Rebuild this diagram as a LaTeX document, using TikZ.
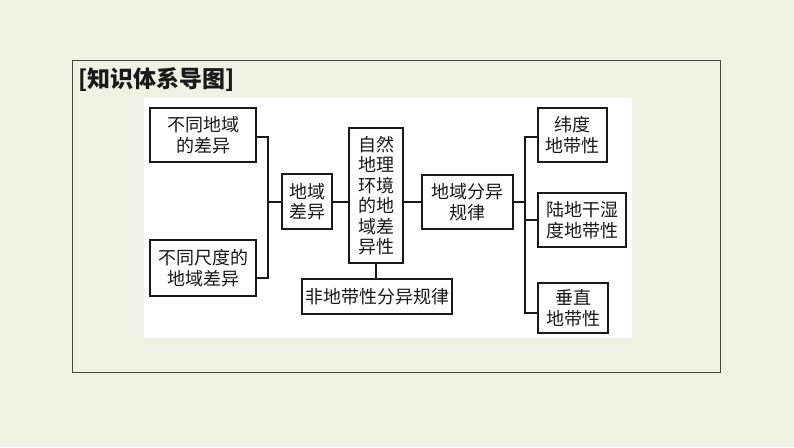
\documentclass[tikz,border=0pt]{standalone}
\usepackage{fontspec}
\setmainfont{Noto Sans CJK SC}
\definecolor{bg}{RGB}{238,242,226}
\definecolor{frame}{RGB}{70,70,70}
\definecolor{ink}{RGB}{25,25,25}
\begin{document}
\begin{tikzpicture}[x=1pt,y=-1pt,
  box/.style={draw=ink,line width=1.3pt,fill=white,inner sep=0pt,align=center,
    font=\fontsize{18}{20.5}\selectfont,text=ink},
  conn/.style={draw=ink,line width=1.3pt}]
\useasboundingbox (0,0) rectangle (794,447);
\fill[bg] (0,0) rectangle (794,447);
\draw[frame,line width=1pt] (72,60) rectangle (720,372);
\fill[white] (144,98) rectangle (632,338);
\node[anchor=west,font=\fontsize{23}{26}\selectfont\bfseries,text=ink] (title) at (75,80) {[知识体系导图]};
% boxes
\node[box,minimum width=106,minimum height=54] (A) at (203,135) {不同地域\\的差异};
\node[box,minimum width=106,minimum height=56] (B) at (203,268) {不同尺度的\\地域差异};
\node[box,minimum width=50,minimum height=55] (C) at (307,201.5) {地域\\差异};
\node[box,minimum width=54,minimum height=135] (D) at (376,195.5) {自然\\地理\\环境\\的地\\域差\\异性};
\node[box,minimum width=150,minimum height=35] (E) at (377,296.5) {非地带性分异规律};
\node[box,minimum width=91,minimum height=54] (F) at (467.5,202) {地域分异\\规律};
\node[box,minimum width=69,minimum height=54] (G) at (572.5,135) {纬度\\地带性};
\node[box,minimum width=88,minimum height=54] (H) at (582,220) {陆地干湿\\度地带性};
\node[box,minimum width=70,minimum height=50] (I) at (573,308) {垂直\\地带性};
% connectors
\coordinate (j1) at (268,202);
\coordinate (j2) at (525,202);
\draw[conn] ([yshift=-2pt]A.east) -| (j1);
\draw[conn] ([yshift=-10pt]B.east) -| (j1);
\draw[conn] (j1) -- (C.west |- j1);
\draw[conn] (C.east |- j1) -- (D.west |- j1);
\draw[conn] (D.south) -- (E.north -| D.south);
\draw[conn] (D.east |- j1) -- (F.west |- j1);
\draw[conn] (F.east |- j2) -- (j2);
\draw[conn] ([yshift=-2pt]G.west) -| (j2);
\draw[conn] ([yshift=-5pt]I.west) -| (j2);
\draw[conn] (H.west) -- (H.west -| j2);
\end{tikzpicture}
\end{document}
